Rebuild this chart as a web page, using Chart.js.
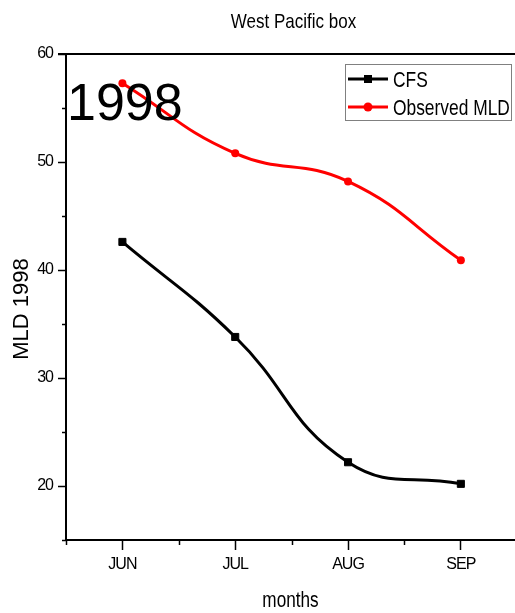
<!DOCTYPE html>
<html><head><meta charset="utf-8">
<script src="https://cdn.jsdelivr.net/npm/chart.js@4/dist/chart.umd.min.js"></script>
<style>html,body{margin:0;padding:0;background:#fff}#wrap{width:515px;height:613px;position:relative}</style>
</head><body><div id="wrap"><canvas id="c" width="515" height="613"></canvas></div>
<script>
const months = ['JUN', 'JUL', 'AUG', 'SEP'];
const cfsValues = [42.6, 33.8, 22.2, 20.2];
const observedValues = [57.3, 50.8, 48.2, 40.9];
const yTickLabels = [20, 30, 40, 50, 60];
const seriesNames = ['CFS', 'Observed MLD'];
const chartTitle = 'West Pacific box';
const yearLabel = '1998';
const xTitle = 'months';
const yTitle = 'MLD 1998';

const SANS = '"Liberation Sans", Arial, sans-serif';

function narrowText(ctx, text, x, y, size, sx, align) {
  ctx.save();
  ctx.font = size + 'px ' + SANS;
  ctx.textAlign = align; ctx.textBaseline = 'alphabetic';
  ctx.translate(x, y);
  ctx.scale(sx, 1);
  ctx.fillText(text, 0, 0);
  ctx.restore();
}

const decor = {
  id: 'decor',
  beforeDraw(chart) {
    chart.ctx.letterSpacing = '-1px';
  },
  afterDraw(chart) {
    const ctx = chart.ctx, a = chart.chartArea;
    const xs = chart.scales.x, ys = chart.scales.y;
    ctx.save();
    ctx.letterSpacing = '0px';
    // top frame line
    ctx.strokeStyle = '#000'; ctx.lineWidth = 2;
    ctx.beginPath(); ctx.moveTo(a.left - 8, a.top); ctx.lineTo(a.right, a.top); ctx.stroke();
    // minor ticks
    ctx.lineWidth = 1.5;
    ys.ticks.forEach(t => {
      if (!yTickLabels.includes(t.value)) {
        const p = Math.round(ys.getPixelForValue(t.value)) + 0.5;
        ctx.beginPath(); ctx.moveTo(a.left - 4, p); ctx.lineTo(a.left, p); ctx.stroke();
      }
    });
    xs.ticks.forEach(t => {
      if (!Number.isInteger(t.value)) {
        const p = Math.round(xs.getPixelForValue(t.value)) + 0.5;
        ctx.beginPath(); ctx.moveTo(p, a.bottom); ctx.lineTo(p, a.bottom + 5); ctx.stroke();
      }
    });
    ctx.fillStyle = '#000';
    // title
    narrowText(ctx, chartTitle, (a.left + a.right) / 2 + 3, 28, 21, 0.81, 'center');
    // x title
    narrowText(ctx, xTitle, (a.left + a.right) / 2, 607, 22, 0.78, 'center');
    // y title
    ctx.save();
    ctx.translate(28, 309);
    ctx.rotate(-Math.PI / 2);
    ctx.font = '22px ' + SANS;
    ctx.textAlign = 'center'; ctx.textBaseline = 'alphabetic';
    ctx.fillText(yTitle, 0, 0);
    ctx.restore();
    // big year label
    ctx.font = '52px ' + SANS;
    ctx.textAlign = 'left'; ctx.textBaseline = 'alphabetic';
    ctx.fillText(yearLabel, 67, 120);
    // legend
    const lx = 345.5, ly = 64.5, lw = 166, lh = 56;
    ctx.fillStyle = '#fff';
    ctx.fillRect(lx, ly, lw, lh);
    ctx.strokeStyle = '#808080'; ctx.lineWidth = 1;
    ctx.strokeRect(lx, ly, lw, lh);
    chart.data.datasets.forEach((ds, i) => {
      const yy = 79 + i * 28;
      ctx.strokeStyle = ds.borderColor; ctx.lineWidth = 3;
      ctx.beginPath(); ctx.moveTo(348, yy); ctx.lineTo(388, yy); ctx.stroke();
      ctx.fillStyle = ds.pointBackgroundColor;
      if (ds.pointStyle === 'rect') {
        ctx.fillRect(364, yy - 4, 8, 8);
      } else {
        ctx.beginPath(); ctx.arc(368, yy, 4.5, 0, Math.PI * 2); ctx.fill();
      }
      ctx.fillStyle = '#000';
      narrowText(ctx, ds.label, 393, yy + 8, 22, 0.79, 'left');
    });
    ctx.restore();
  }
};

const toPts = vals => vals.map((v, i) => ({ x: i, y: v }));

new Chart(document.getElementById('c'), {
  type: 'line',
  data: {
    datasets: [
      { label: seriesNames[0], data: toPts(cfsValues), borderColor: '#000', backgroundColor: '#000',
        pointBackgroundColor: '#000', pointBorderColor: '#000', pointStyle: 'rect', pointRadius: 5, pointBorderWidth: 1,
        borderWidth: 3, tension: 0.45, fill: false },
      { label: seriesNames[1], data: toPts(observedValues), borderColor: '#ff0000', backgroundColor: '#ff0000',
        pointBackgroundColor: '#ff0000', pointBorderColor: '#ff0000', pointStyle: 'circle', pointRadius: 4, pointBorderWidth: 0,
        borderWidth: 3, tension: 0.45, fill: false }
    ]
  },
  options: {
    responsive: false,
    animation: false,
    layout: { autoPadding: false, padding: { top: 54, left: 0, right: 0, bottom: 0 } },
    plugins: { legend: { display: false }, title: { display: false }, tooltip: { enabled: false } },
    scales: {
      x: {
        type: 'linear', min: -0.5, max: 3.48,
        afterFit: s => { s.height = 73; s.paddingRight = 0; s.paddingLeft = 0; },
        border: { display: true, color: '#000', width: 2 },
        grid: { drawOnChartArea: false, drawTicks: true, tickLength: 10, tickWidth: 1.5,
          tickColor: c => Number.isInteger(c.tick.value) ? '#000' : 'rgba(0,0,0,0)' },
        ticks: { stepSize: 0.5, includeBounds: false, autoSkip: false, maxRotation: 0, padding: 5, color: '#000',
          font: { family: SANS, size: 16 },
          callback: v => Number.isInteger(v) ? months[v] : '' },
        title: { display: false }
      },
      y: {
        min: 15, max: 60,
        afterFit: s => { s.width = 66; },
        border: { display: true, color: '#000', width: 2 },
        grid: { drawOnChartArea: false, drawTicks: true, tickLength: 8, tickWidth: 1.5,
          tickColor: c => yTickLabels.includes(c.tick.value) ? '#000' : 'rgba(0,0,0,0)' },
        ticks: { stepSize: 5, autoSkip: false, padding: 5, color: '#000',
          font: { family: SANS, size: 16 },
          callback: v => yTickLabels.includes(v) ? String(v) : '' }
      }
    }
  },
  plugins: [decor]
});
</script></body></html>
